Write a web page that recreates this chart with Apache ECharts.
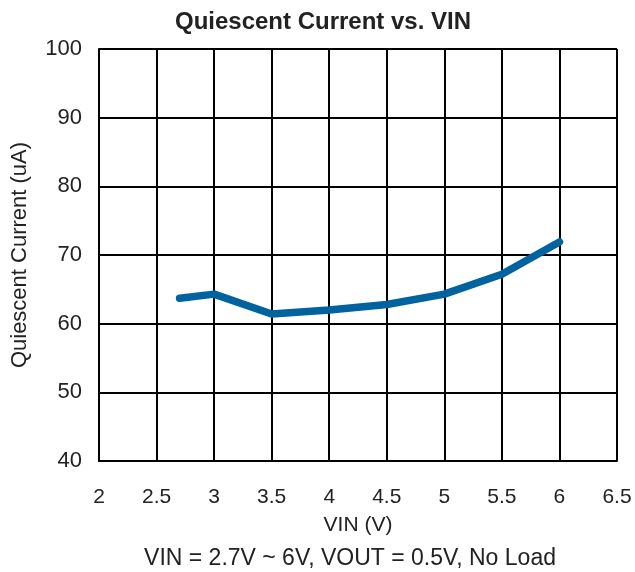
<!DOCTYPE html>
<html>
<head>
<meta charset="utf-8">
<script src="https://cdn.jsdelivr.net/npm/echarts@6/dist/echarts.min.js"></script>
<style>
  html, body { margin: 0; padding: 0; background: #fff; }
  #chart { width: 635px; height: 572px; }
</style>
</head>
<body>
<div id="chart"></div>
<script>
// VIN (V) vs quiescent current (uA)
const vin = [2.7, 3, 3.5, 4, 4.5, 5, 5.5, 6];
const iq = [63.7, 64.3, 61.4, 62.0, 62.8, 64.3, 67.2, 71.9];

const chart = echarts.init(document.getElementById('chart'));
const font = '"Liberation Sans", Arial, sans-serif';

chart.setOption({
    backgroundColor: '#fff',
    animation: false,
    title: [
        {
            text: 'Quiescent Current vs. VIN',
            left: 318,
            textAlign: 'center',
            top: 5,
            textStyle: { fontFamily: font, fontSize: 24, fontWeight: 'bold', color: '#222' }
        },
        {
            text: 'VIN = 2.7V ~ 6V, VOUT = 0.5V, No Load',
            left: 345,
            textAlign: 'center',
            top: 542,
            textStyle: { fontFamily: font, fontSize: 23, fontWeight: 'normal', color: '#222' }
        }
    ],
    grid: { left: 99, right: 18, top: 49, bottom: 111 },
    xAxis: {
        type: 'value',
        min: 2,
        max: 6.5,
        interval: 0.5,
        name: 'VIN (V)',
        nameLocation: 'middle',
        nameGap: 54,
        nameTextStyle: { fontFamily: font, fontSize: 21, color: '#222' },
        axisLine: { show: true, lineStyle: { color: '#000', width: 2 } },
        axisTick: { show: false },
        axisLabel: { fontFamily: font, fontSize: 21, color: '#222', margin: 26 },
        splitLine: { show: true, lineStyle: { color: '#000', width: 2 } }
    },
    yAxis: {
        type: 'value',
        min: 40,
        max: 100,
        interval: 10,
        name: 'Quiescent Current (uA)',
        nameLocation: 'middle',
        nameGap: 68,
        nameTextStyle: { fontFamily: font, fontSize: 22, color: '#222' },
        axisLine: { show: true, lineStyle: { color: '#000', width: 2 } },
        axisTick: { show: false },
        axisLabel: { fontFamily: font, fontSize: 22, color: '#222', margin: 17 },
        splitLine: { show: true, lineStyle: { color: '#000', width: 2 } }
    },
    series: [
        {
            type: 'line',
            data: vin.map((v, i) => [v, iq[i]]),
            showSymbol: false,
            lineStyle: { color: '#0063a0', width: 7.5, cap: 'round', join: 'round' },
            itemStyle: { color: '#0063a0' }
        }
    ]
});
</script>
</body>
</html>
